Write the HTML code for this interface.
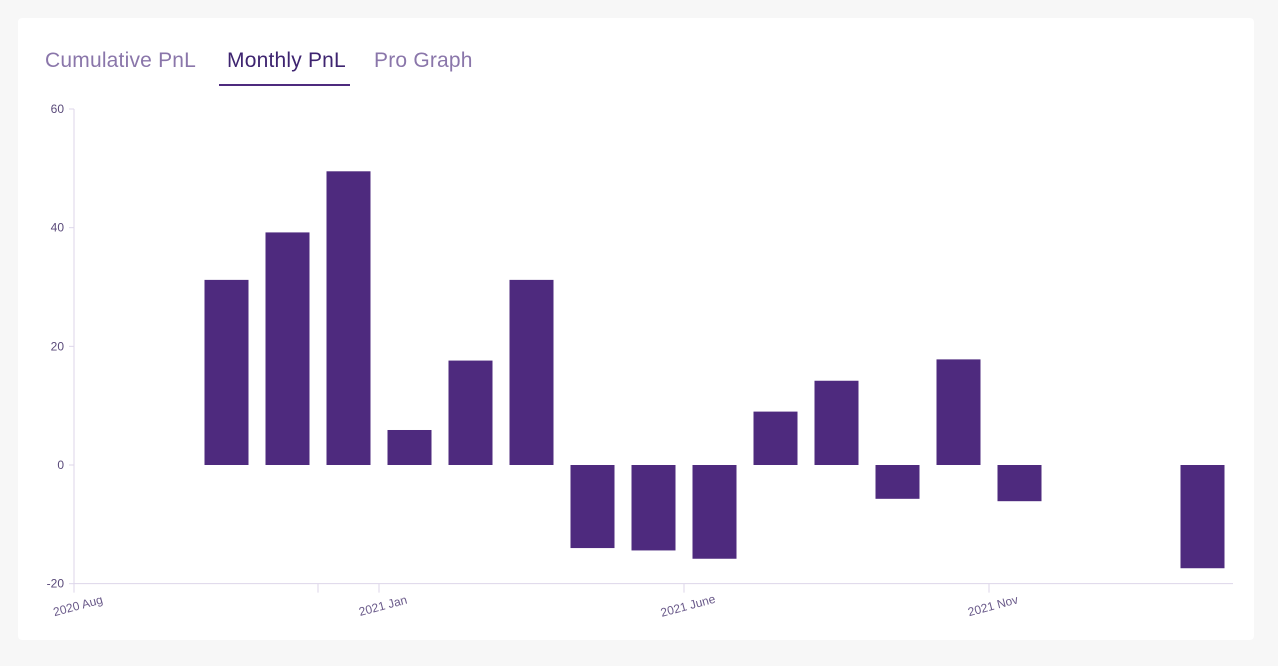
<!DOCTYPE html>
<html><head><meta charset="utf-8"><style>
body{margin:0;width:1278px;height:666px;background:#f7f7f7;font-family:"Liberation Sans",sans-serif;overflow:hidden}
.card{position:absolute;left:18px;top:18px;width:1236px;height:622px;background:#fff;border-radius:4px}
.tab{position:absolute;top:49px;font-size:21px;color:#8a76aa;letter-spacing:0.2px}
</style></head><body>
<div class="card"></div>
<div class="tab" style="left:45px">Cumulative PnL</div>
<div class="tab" style="left:227px;color:#3e2470">Monthly PnL</div>
<div style="position:absolute;left:219px;top:84px;width:131px;height:2px;background:#4e2a7e"></div>
<div class="tab" style="left:374px">Pro Graph</div>
<svg id="c" width="1278" height="666" style="position:absolute;left:0;top:0"></svg>
<script>
const monthIndex=[2,3,4,5,6,7,8,9,10,11,12,13,14,15,18];
const values=[31.2,39.2,49.5,5.9,17.6,31.2,-14,-14.4,-15.8,9,14.2,-5.7,17.8,-6.1,-17.4];
const yTicks=[60,40,20,0,-20];
const xTickMonths=[0,5,10,15];
const xTickLabels=["2020 Aug","2021 Jan","2021 June","2021 Nov"];
const NS="http://www.w3.org/2000/svg",svg=document.getElementById('c');
const x0=74,mw=61,bw=44;
const X=m=>x0+mw*m;
const Y=v=>465-v*(356/60);
function add(t,a,txt){const e=document.createElementNS(NS,t);for(const k in a)e.setAttribute(k,a[k]);if(txt!=null)e.textContent=txt;svg.appendChild(e);return e;}
let e=add('line',{x1:x0,y1:Y(60),x2:x0,y2:Y(-20),stroke:'#ddd6ea'});


e=add('line',{x1:x0,y1:Y(-20),x2:1233,y2:Y(-20),stroke:'#ddd6ea'});


yTicks.forEach(v=>{
 add('line',{x1:x0-5,y1:Y(v),x2:x0,y2:Y(v),stroke:'#ddd6ea'});
 e=add('text',{x:x0-10,y:Y(v)+4,'text-anchor':'end','font-size':12,fill:'#5a4a7a'},v);
 
 
});
add('line',{x1:X(4),y1:Y(-20),x2:X(4),y2:Y(-20)+9,stroke:'#ddd6ea'});
xTickMonths.forEach((m,i)=>{
 add('line',{x1:X(m),y1:Y(-20),x2:X(m),y2:Y(-20)+9,stroke:'#ddd6ea'});
 const tx=X(m)+5,ty=Y(-20)+26;
 e=add('text',{x:tx,y:ty,'text-anchor':'middle','font-size':12,fill:'#6a5a8a',transform:`rotate(-15 ${tx} ${ty})`},xTickLabels[i]);
 
 
});
values.forEach((v,i)=>{
 const cx=X(monthIndex[i]+0.5);
 e=add('rect',{x:cx-bw/2,y:Math.min(Y(v),Y(0)),width:bw,height:Math.abs(Y(v)-Y(0)),fill:'#4e2a7e'});
 
 
});
</script>
</body></html>
